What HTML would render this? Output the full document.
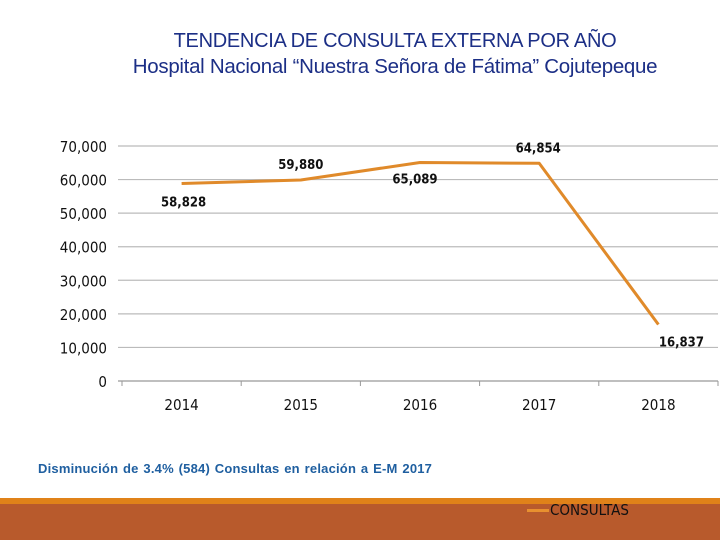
<!DOCTYPE html>
<html><head><meta charset="utf-8"><style>
body{margin:0;width:720px;height:540px;background:#fff;position:relative;overflow:hidden;font-family:"Liberation Sans",sans-serif}
.t{position:absolute;left:0;width:790px;text-align:center;color:#1c2f86;font-size:20px;font-family:"Liberation Sans",sans-serif;letter-spacing:-0.3px}
</style></head><body>
<div class="t" style="top:30px">TENDENCIA DE CONSULTA EXTERNA POR AÑO</div>
<div class="t" style="top:55px;font-size:20.5px">Hospital Nacional “Nuestra Señora de Fátima” Cojutepeque</div>
<svg id="c" width="720" height="540" style="position:absolute;left:0;top:0"></svg>
<div style="position:absolute;left:38px;top:461px;font-size:13px;color:#1f5fa0;font-weight:bold;letter-spacing:0.2px;word-spacing:1px">Disminución de 3.4% (584) Consultas en relación a E-M 2017</div>
<div style="position:absolute;left:0;top:498px;width:720px;height:6px;background:#e08219"></div>
<div style="position:absolute;left:0;top:504px;width:720px;height:36px;background:#b85a2c"></div>
<div style="position:absolute;left:527px;top:509px;width:22px;height:3px;background:#e8902f"></div>
<div style="position:absolute;left:550px;top:501px;font-size:15px;color:#111;font-family:'DejaVu Sans Condensed','Liberation Sans',sans-serif">CONSULTAS</div>
<script>
const categories=["2014","2015","2016","2017","2018"];
const values=[58828,59880,65089,64854,16837];
const labels=["58,828","59,880","65,089","64,854","16,837"];
const yTicks=[0,10000,20000,30000,40000,50000,60000,70000];
const labelOffX=[2,0,-5,-1,23];
const labelOffY=[18,-16,16,-16,17];
const svg=document.getElementById('c');const NS='http://www.w3.org/2000/svg';
const L=122,R=718,T=146,B=381,max=70000;
const x=i=>L+(R-L)/categories.length*(i+0.5);
const y=v=>B-(B-T)*v/max;
function mk(t,a){const e=document.createElementNS(NS,t);for(const k in a)e.setAttribute(k,a[k]);svg.appendChild(e);return e;}
yTicks.forEach(v=>{
 const g=mk('line',{x1:L-4,x2:R,y1:y(v),y2:y(v),stroke:v===0?'#999':'#bbb','stroke-width':1.2});
 
 
 const t=mk('text',{x:107,y:y(v)+6,'text-anchor':'end','font-size':15,fill:'#111','font-family':'DejaVu Sans Condensed,Liberation Sans,sans-serif'});
 t.textContent=v.toLocaleString('en-US');
 
 
});
for(let i=0;i<=categories.length;i++){
 const tk=mk('line',{x1:L+(R-L)/categories.length*i,x2:L+(R-L)/categories.length*i,y1:B,y2:B+5,stroke:'#999'});
 
 
}
categories.forEach((c,i)=>{
 const t=mk('text',{x:x(i),y:410,'text-anchor':'middle','font-size':15,fill:'#111','font-family':'DejaVu Sans Condensed,Liberation Sans,sans-serif'});
 t.textContent=c;
 
 
});
const p=mk('polyline',{points:values.map((v,i)=>x(i)+','+y(v)).join(' '),fill:'none',stroke:'#e08a2a','stroke-width':3,'stroke-linejoin':'round'});


values.forEach((v,i)=>{
 const t=mk('text',{x:x(i)+labelOffX[i],y:y(v)+labelOffY[i]+5,'text-anchor':'middle','font-size':13,'font-weight':'bold',fill:'#111','font-family':'DejaVu Sans Condensed,Liberation Sans,sans-serif'});
 t.textContent=labels[i];
 
 
});
</script>
</body></html>
